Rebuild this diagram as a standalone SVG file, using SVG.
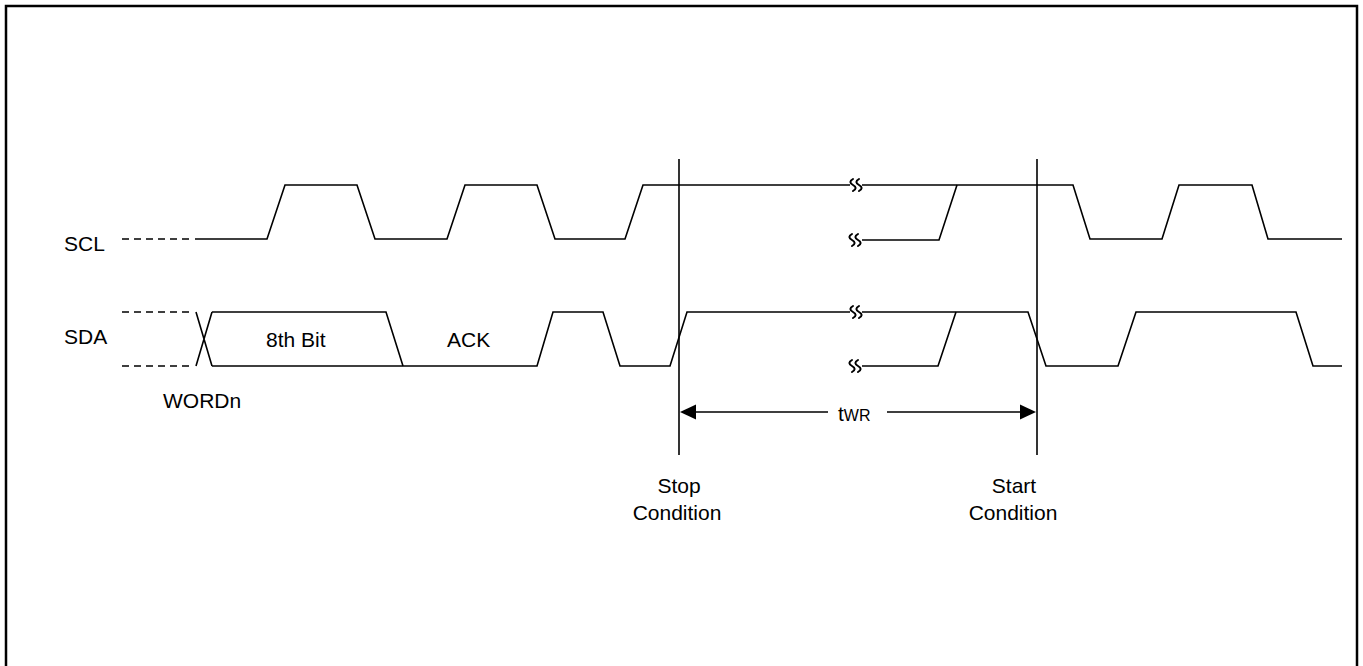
<svg xmlns="http://www.w3.org/2000/svg" width="1363" height="666" viewBox="0 0 1363 666">
<style>
.w{fill:none;stroke:#000;stroke-width:1.6;stroke-linejoin:miter}
.d{fill:none;stroke:#000;stroke-width:1.6;stroke-dasharray:7 5}
.v{fill:none;stroke:#000;stroke-width:1.6}
.t{font-family:"Liberation Sans",Arial,sans-serif;font-size:21px;fill:#000}
.brk{fill:none;stroke:#000;stroke-width:2;stroke-linecap:round}
</style>
<defs>
<g id="squig"><path class="brk" d="M-3,-6 c-3.5,2 -3.5,4 0,6 c3.5,2 3.5,4 0,6 M3,-6 c-3.5,2 -3.5,4 0,6 c3.5,2 3.5,4 0,6"/></g>
</defs>
<rect x="6" y="6" width="1351" height="700" fill="#fff" stroke="#000" stroke-width="2.5"/>
<g id="labels">
<text class="t" x="64" y="251">SCL</text>
<text class="t" x="64" y="344">SDA</text>
<text class="t" x="266" y="347">8th Bit</text>
<text class="t" x="447" y="347">ACK</text>
<text class="t" x="163" y="408">WORDn</text>
</g>
<g id="scl">
<path class="d" d="M122,239 H190"/>
<path class="w" d="M195,239 H267 L285,185 H357 L375,239 H447 L465,185 H537 L555,239 H625 L643,185 H850"/>
<path class="w" d="M862,185 H1073 L1090,239 H1162 L1179,185 H1252 L1268,239 H1342"/>
<path class="w" d="M862,240 H939 L957,185"/>
<use href="#squig" x="856" y="185"/>
<use href="#squig" x="855" y="240"/>
</g>
<g id="sda">
<path class="d" d="M122,312 H190 M122,366 H190"/>
<path class="w" d="M196,312 L212,366 M196,366 L212,312"/>
<path class="w" d="M212,312 H386 L403,366"/>
<path class="w" d="M212,366 H537 L553,312 H603 L620,366 H670 L687,312 H850"/>
<path class="w" d="M862,312 H1028 L1046,366 H1118 L1136,312 H1296 L1313,366 H1342"/>
<path class="w" d="M862,366 H938 L956,312"/>
<use href="#squig" x="856" y="312"/>
<use href="#squig" x="855" y="366"/>
</g>
<g id="stop">
<path class="v" d="M679,159 V455"/>
<text class="t" x="679" y="493" text-anchor="middle">Stop</text>
<text class="t" x="677" y="520" text-anchor="middle">Condition</text>
</g>
<g id="start">
<path class="v" d="M1037,159 V455"/>
<text class="t" x="1014" y="493" text-anchor="middle">Start</text>
<text class="t" x="1013" y="520" text-anchor="middle">Condition</text>
</g>
<g id="connectors">
<path class="v" d="M690,412 H828 M887,412 H1026"/>
<polygon points="680,412 696,404.5 696,419.5" fill="#000"/>
<polygon points="1036,412 1020,404.5 1020,419.5" fill="#000"/>
<text class="t" x="838" y="421">t<tspan font-size="16">WR</tspan></text>
</g>
</svg>
